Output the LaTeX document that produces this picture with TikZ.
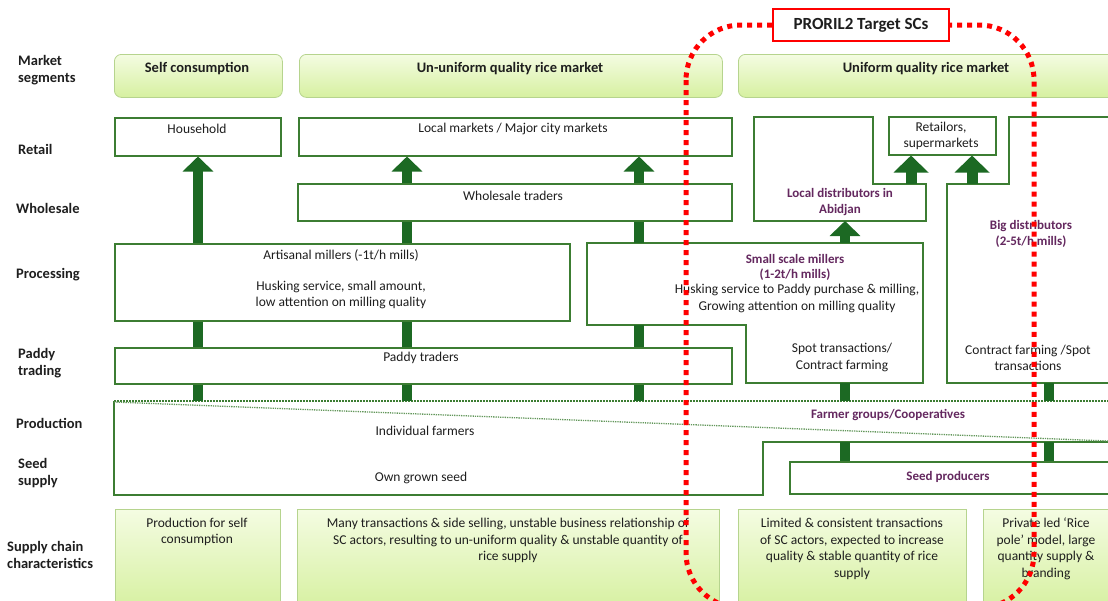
\documentclass[tikz,border=0pt]{standalone}
\usepackage{fontspec}
\setmainfont{Carlito}
\usetikzlibrary{arrows.meta, positioning}

\definecolor{boxgreen}{RGB}{60,125,50}
\definecolor{arrowgreen}{RGB}{28,105,35}
\definecolor{segtop}{RGB}{244,252,226}
\definecolor{segbot}{RGB}{214,240,160}
\definecolor{segline}{RGB}{182,212,142}
\definecolor{actor}{RGB}{100,40,95}
\definecolor{ink}{RGB}{30,30,30}

\tikzset{
  rowlabel/.style={font=\fontsize{14.5}{17}\selectfont\bfseries, align=left, anchor=west, inner sep=0, text=ink},
  segbox/.style={draw=segline, line width=0.8pt, rounded corners=7pt, top color=segtop, bottom color=segbot, anchor=north west, inner sep=0},
  chainbox/.style={draw=segline, line width=0.8pt, top color=segtop, bottom color=segbot, anchor=north west, inner sep=0},
  actorbox/.style={draw=boxgreen, line width=1.5pt, fill=white, anchor=north west, inner sep=0},
  bodytxt/.style={font=\fontsize{13.5}{16.5}\selectfont, align=center, inner sep=0, text=ink},
  headtxt/.style={font=\fontsize{14.5}{17}\selectfont\bfseries, inner sep=0, text=ink},
  actortxt/.style={font=\fontsize{13}{15.5}\selectfont\bfseries, align=center, inner sep=0, text=actor},
  uparrow/.style={arrowgreen, line width=10pt, -{Triangle[width=30pt,length=15pt]}},
  bigarrow/.style={arrowgreen, line width=11pt, -{Triangle[width=34pt,length=17pt]}},
  linkbar/.style={arrowgreen, line width=10pt},
  targetline/.style={red, line width=5pt, dash pattern=on 5pt off 5pt},
}

\begin{document}
\begin{tikzpicture}[x=1pt, y=-1pt]
\useasboundingbox (0,0) rectangle (1108,600);
\clip (0,0) rectangle (1108,600);

% row labels
\node[rowlabel] (lsegment) at (18,70) {Market\\segments};
\node[rowlabel] (lretail) at (18,149) {Retail};
\node[rowlabel] (lwholesale) at (16,208) {Wholesale};
\node[rowlabel] (lprocessing) at (16,275) {Processing};
\node[rowlabel] (lpaddy) at (18,363) {Paddy\\trading};
\node[rowlabel] (lproduction) at (16,423) {Production};
\node[rowlabel] (lseed) at (18,473) {Seed\\supply};
\node[rowlabel] (lchain) at (7,555) {Supply chain\\characteristics};

% market segments
\node[segbox, minimum width=168pt, minimum height=43pt] (selfseg) at (114,54) {};
\node[segbox, minimum width=423pt, minimum height=43pt] (unifseg) at (299,54) {};
\node[segbox, minimum width=420pt, minimum height=43pt] (uniseg) at (738,54) {};
\node[headtxt] (selfsegtxt) at (197,69) {Self consumption};
\node[headtxt] (unifsegtxt) at (510,69) {Un-uniform quality rice market};
\node[headtxt] (unisegtxt) at (926,69) {Uniform quality rice market};

% actor boxes
\node[actorbox, minimum width=166pt, minimum height=38pt] (household) at (114,117) {};
\node[actorbox, minimum width=433pt, minimum height=38pt] (localmkt) at (298,117) {};
\node[actorbox, minimum width=107pt, minimum height=38pt] (retailors) at (888,116) {};
\node[actorbox, minimum width=434pt, minimum height=37pt] (wholesale) at (297,183) {};
\node[actorbox, minimum width=455pt, minimum height=77pt] (artisanal) at (114,243) {};
\node[actorbox, minimum width=617pt, minimum height=36pt] (paddy) at (114,347) {};

% stepped boxes
\draw[boxgreen, line width=1.5pt, fill=white] (754,117) -- (873,117) -- (873,184) -- (926,184) -- (926,221) -- (754,221) -- cycle;
\draw[boxgreen, line width=1.5pt, fill=white] (1009,117) -- (1130,117) -- (1130,383) -- (947,383) -- (947,184) -- (1009,184) -- cycle;
\draw[boxgreen, line width=1.5pt, fill=white] (587,243) -- (923,243) -- (923,383) -- (746,383) -- (746,325) -- (587,325) -- cycle;
\coordinate (diststep) at (926,184);
\coordinate (distbase) at (754,221);
\coordinate (millerstop) at (587,243);
\coordinate (millersfoot) at (587,325);
\coordinate (millersbase) at (746,383);

% production and seed supply
\draw[boxgreen, line width=1.5pt] (1130,442) -- (763,442) -- (763,495) -- (114,495) -- (114,401);
\draw[boxgreen, line width=2pt, densely dotted] (114,401) -- (1108,401);
\draw[boxgreen!80, line width=1.3pt, densely dotted] (114,402) -- (1108,441);
\node[actorbox, minimum width=340pt, minimum height=32pt] (seedprod) at (789,461) {};
\coordinate (prodtop) at (114,401);
\coordinate (coopbase) at (763,442);

% texts in boxes
\node[bodytxt] (householdtxt) at (197,129) {Household};
\node[bodytxt] (localmkttxt) at (513,129) {Local markets / Major city markets};
\node[bodytxt] (retailorstxt) at (941,136) {Retailors,\\supermarkets};
\node[actortxt] (localdist) at (840,202) {Local distributors in\\Abidjan};
\node[actortxt] (bigdist) at (1031,234) {Big distributors\\(2-5t/h mills)};
\node[bodytxt] (bigdistinfo) at (1028,358) {Contract farming /Spot\\transactions};
\node[bodytxt] (wholesaletxt) at (513,196) {Wholesale traders};
\node[bodytxt] (artisanaltxt) at (341,279) {Artisanal millers (-1t/h mills)\\[14.5pt]Husking service, small amount,\\low attention on milling quality};
\node[actortxt] (millers) at (795,267.5) {Small scale millers\\(1-2t/h mills)};
\node[bodytxt] (millersinfo) at (797,298.5) {Husking service to Paddy purchase \& milling,\\Growing attention on milling quality};
\node[bodytxt] (millersdeal) at (842,357.5) {Spot transactions/\\Contract farming};
\node[bodytxt] (paddytxt) at (421,358) {Paddy traders};
\node[actortxt] (coop) at (888,415) {Farmer groups/Cooperatives};
\node[bodytxt] (farmers) at (425,431) {Individual farmers};
\node[bodytxt] (ownseed) at (421,478) {Own grown seed};
\node[actortxt] (seedprodtxt) at (948,477) {Seed producers};

% supply chain characteristics
\node[chainbox, minimum width=165pt, minimum height=100pt] (chainself) at (115,509) {};
\node[chainbox, minimum width=422pt, minimum height=100pt] (chainunif) at (297,509) {};
\node[chainbox, minimum width=228pt, minimum height=100pt] (chainuni) at (738,509) {};
\node[chainbox, minimum width=150pt, minimum height=100pt] (chainpole) at (983,509) {};
\node[bodytxt] (chainselftxt) at (197,532) {Production for self\\consumption};
\node[bodytxt] (chainuniftxt) at (508,540.5) {Many transactions \& side selling, unstable business relationship of\\SC actors, resulting to un-uniform quality \& unstable quantity of\\rice supply};
\node[bodytxt] (chainunitxt) at (852,549) {Limited \& consistent transactions\\of SC actors, expected to increase\\quality \& stable quantity of rice\\supply};
\node[bodytxt] (chainpoletxt) at (1046,549) {Private led ‘Rice\\pole’ model, large\\quantity supply \&\\branding};

% columns of the flows
\coordinate (c1) at (198,0);
\coordinate (c2) at (407,0);
\coordinate (c3) at (639,0);
\coordinate (c4) at (845,0);
\coordinate (c5) at (1049,0);
\coordinate (r1) at (911,0);
\coordinate (r2) at (972,0);

% arrows
\draw[uparrow] (c1 |- artisanal.north) -- (c1 |- household.south);
\foreach \c in {c2,c3}
  \draw[uparrow] (\c |- wholesale.north) -- (\c |- localmkt.south);
\draw[uparrow] (c4 |- millerstop) -- (c4 |- distbase);
\foreach \c in {r1,r2}
  \draw[bigarrow] (\c |- diststep) -- (\c |- retailors.south);

% bars
\foreach \c in {c1,c2}
  \draw[linkbar] (\c |- artisanal.south) -- (\c |- paddy.north);
\draw[linkbar] (c2 |- wholesale.south) -- (c2 |- artisanal.north);
\draw[linkbar] (c3 |- wholesale.south) -- (c3 |- millerstop);
\draw[linkbar] (c3 |- millersfoot) -- (c3 |- paddy.north);
\foreach \c in {c1,c2,c3}
  \draw[linkbar] (\c |- paddy.south) -- (\c |- prodtop);
\foreach \c in {c4,c5} {
  \draw[linkbar] (\c |- millersbase) -- (\c |- prodtop);
  \draw[linkbar] (\c |- coopbase) -- (\c |- seedprod.north);
}

% target supply chains
\draw[targetline, rounded corners=55pt] (686,25) rectangle (1034,608);
\node[draw=red, line width=1.5pt, fill=white, minimum width=176pt, minimum height=32pt,
  font=\fontsize{17}{20}\selectfont\bfseries, text=ink] (target) at (861,25) {PRORIL2 Target SCs};
\end{tikzpicture}
\end{document}
